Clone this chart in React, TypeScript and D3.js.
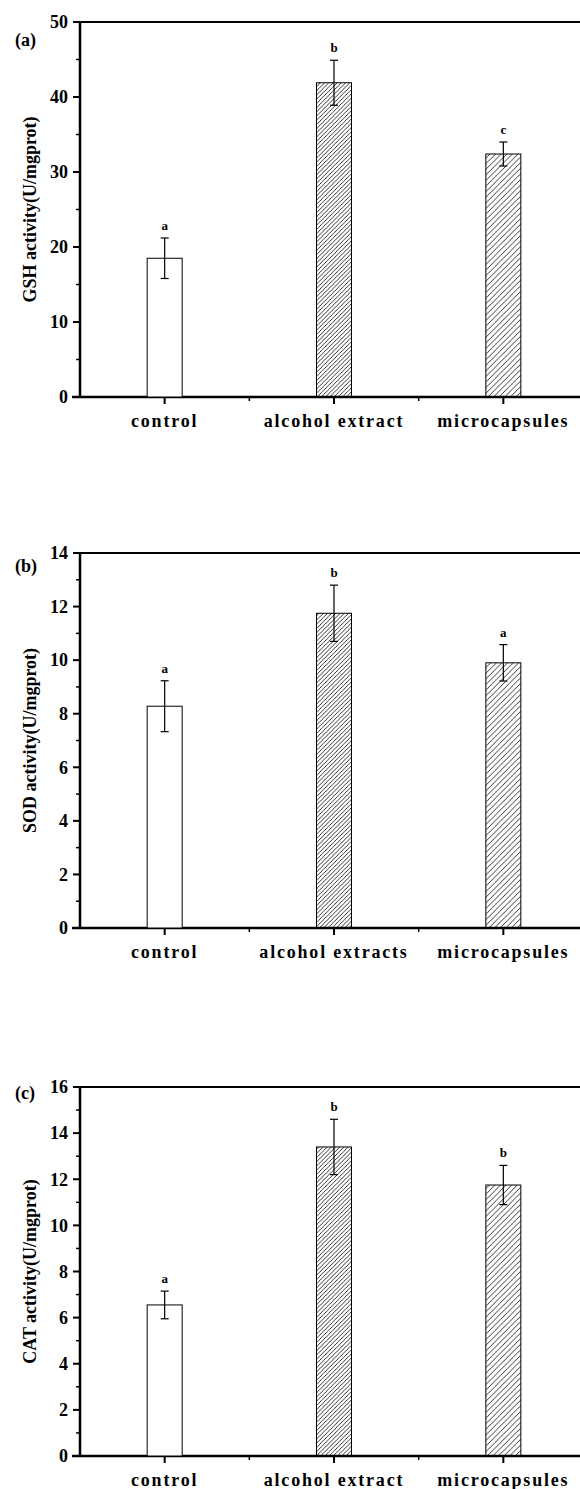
import React from 'react'
import * as d3 from 'd3'

// values
const gshCategories = ['control', 'alcohol extract', 'microcapsules']
const gshMeans = [18.5, 41.9, 32.4]
const gshErrors = [2.7, 3.0, 1.6]
const gshLetters = ['a', 'b', 'c']
const gshTicks = [0, 10, 20, 30, 40, 50]

const sodCategories = ['control', 'alcohol extracts', 'microcapsules']
const sodMeans = [8.28, 11.75, 9.9]
const sodErrors = [0.95, 1.05, 0.68]
const sodLetters = ['a', 'b', 'a']
const sodTicks = [0, 2, 4, 6, 8, 10, 12, 14]

const catCategories = ['control', 'alcohol extract', 'microcapsules']
const catMeans = [6.55, 13.4, 11.75]
const catErrors = [0.6, 1.2, 0.85]
const catLetters = ['a', 'b', 'b']
const catTicks = [0, 2, 4, 6, 8, 10, 12, 14, 16]

const fills = ['#fff', 'url(#hatchDense)', 'url(#hatchWide)']
const font = '"Liberation Serif", "Times New Roman", serif'

const panels = [
  { tag: '(a)', title: 'GSH activity(U/mgprot)', cats: gshCategories, means: gshMeans, errs: gshErrors, letters: gshLetters, ticks: gshTicks, top: 22, bottom: 397, tagDy: 24 },
  { tag: '(b)', title: 'SOD activity(U/mgprot)', cats: sodCategories, means: sodMeans, errs: sodErrors, letters: sodLetters, ticks: sodTicks, top: 553, bottom: 928, tagDy: 19 },
  { tag: '(c)', title: 'CAT activity(U/mgprot)', cats: catCategories, means: catMeans, errs: catErrors, letters: catLetters, ticks: catTicks, top: 1087, bottom: 1456, tagDy: 12 },
]

const left = 80
const x = d3.scaleLinear().domain([0.5, 3.5]).range([left, 588])
const barW = 35

function Panel({ p }: { p: any }) {
  const max = p.ticks[p.ticks.length - 1]
  const y = d3.scaleLinear().domain([0, max]).range([p.bottom, p.top])
  const step = p.ticks[1] - p.ticks[0]
  const minors = d3.range(step / 2, max, step)
  const mid = (p.top + p.bottom) / 2
  return (
    <g>
      {/* frame */}
      <line x1={left - 5} x2={580} y1={p.top} y2={p.top} stroke="#000" strokeWidth={2.2} />
      <line x1={left} x2={left} y1={p.top} y2={p.bottom} stroke="#000" strokeWidth={2.5} />
      <line x1={left - 8} x2={580} y1={p.bottom} y2={p.bottom} stroke="#000" strokeWidth={2.5} />

      {/* y ticks */}
      {p.ticks.map((t: number) => (
        <g key={'t' + t}>
          <line x1={left - 7} x2={left} y1={y(t)} y2={y(t)} stroke="#000" strokeWidth={2} />
          <text x={left - 12} y={y(t)} dy="0.35em" textAnchor="end" fontSize={18} fontWeight="bold" fontFamily={font}>{t}</text>
        </g>
      ))}
      {minors.map((t: number) => (
        <line key={'m' + t} x1={left - 4} x2={left} y1={y(t)} y2={y(t)} stroke="#000" strokeWidth={1.5} />
      ))}

      {/* x ticks */}
      {[1, 2, 3].map((c) => (
        <line key={'xt' + c} x1={x(c)} x2={x(c)} y1={p.bottom} y2={p.bottom + 7} stroke="#000" strokeWidth={2} />
      ))}
      {[1.5, 2.5].map((c) => (
        <line key={'xm' + c} x1={x(c)} x2={x(c)} y1={p.bottom} y2={p.bottom + 4} stroke="#000" strokeWidth={1.5} />
      ))}

      {/* bars */}
      {p.means.map((v: number, i: number) => {
        const cx = x(i + 1)
        const hi = y(v + p.errs[i])
        const lo = y(v - p.errs[i])
        return (
          <g key={'b' + i}>
            <rect x={cx - barW / 2} y={y(v)} width={barW} height={p.bottom - y(v)} fill={fills[i]} stroke="#000" strokeWidth={1} />
            <line x1={cx} x2={cx} y1={hi} y2={lo} stroke="#000" strokeWidth={1.2} />
            <line x1={cx - 4} x2={cx + 4} y1={hi} y2={hi} stroke="#000" strokeWidth={1.2} />
            <line x1={cx - 4} x2={cx + 4} y1={lo} y2={lo} stroke="#000" strokeWidth={1.2} />
            <text x={cx} y={hi - 8} textAnchor="middle" fontSize={13} fontWeight="bold" fontFamily={font}>{p.letters[i]}</text>
            <text x={cx} y={p.bottom + 30} textAnchor="middle" fontSize={18} fontWeight="bold" letterSpacing={1.8} fontFamily={font}>{p.cats[i]}</text>
          </g>
        )
      })}

      <text x={15} y={p.top + p.tagDy} fontSize={18} fontWeight="bold" fontFamily={font}>{p.tag}</text>
      <text transform={`translate(36,${mid}) rotate(-90)`} textAnchor="middle" fontSize={18} fontWeight="bold" fontFamily={font}>{p.title}</text>
    </g>
  )
}

export default function App() {
  return (
    <svg width={580} height={1489} style={{ position: 'absolute', left: 0, top: 0, background: '#fff' }}>
      <defs>
        <pattern id="hatchDense" patternUnits="userSpaceOnUse" width={4.2} height={4.2}>
          <path d="M0,4.2 L4.2,0 M-1,1 L1,-1 M3.2,5.2 L5.2,3.2" stroke="#000" strokeWidth={0.8} />
        </pattern>
        <pattern id="hatchWide" patternUnits="userSpaceOnUse" width={5.6} height={5.6}>
          <path d="M0,5.6 L5.6,0 M-1,1 L1,-1 M4.6,6.6 L6.6,4.6" stroke="#000" strokeWidth={0.8} />
        </pattern>
      </defs>
      {panels.map((p) => <Panel key={p.tag} p={p} />)}
    </svg>
  )
}
